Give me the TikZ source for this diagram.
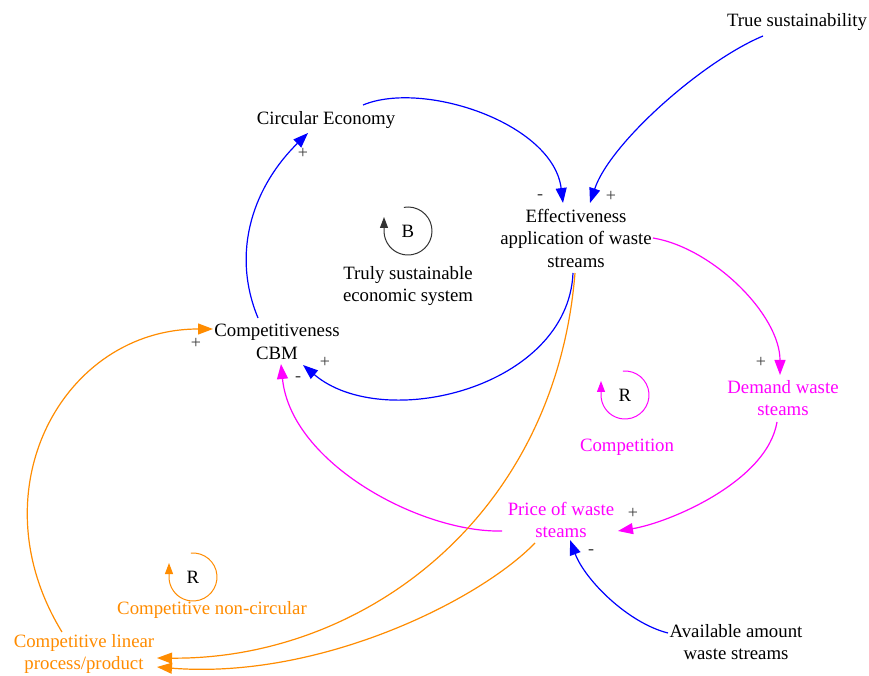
\documentclass[tikz,border=0pt]{standalone}
\usepackage{fontspec}
\setmainfont{LiberationSerif}[Extension=.ttf, UprightFont=*-Regular, BoldFont=*-Bold]
\usetikzlibrary{arrows.meta,calc}
\definecolor{cldblue}{RGB}{0,0,255}
\definecolor{cldmag}{RGB}{255,0,255}
\definecolor{cldorange}{RGB}{255,140,0}
\definecolor{signgray}{RGB}{60,60,60}
\tikzset{
  var/.style={align=center, inner sep=0pt, font=\fontsize{18.8}{22.5}\selectfont},
  sgn/.style={inner sep=0pt, text=signgray, font=\fontsize{18}{20}\selectfont},
  lnk/.style={line width=1.2pt, -{Triangle[length=15pt,width=11pt]}},
  loopsym/.style={line width=1pt, -{Triangle[length=11pt,width=8pt]}},
}

\begin{document}
\begin{tikzpicture}[x=1pt,y=1pt]
	\path[use as bounding box, fill=white] (0,0) rectangle (869,675);
	
	% variables
	\node[var] (ts) at (797,653) {True sustainability};
	\node[var] (ce) at (326,555) {Circular Economy};
	\node[var] (eff) at (576,437) {Effectiveness\\application of waste\\streams};
	\node[var] (cbm) at (277,333) {Competitiveness\\CBM};
	\node[var, text=cldmag] (dem) at (783,277) {Demand waste\\steams};
	\node[var, text=cldmag] (price) at (561,155) {Price of waste\\steams};
	\node[var] (avail) at (736,33) {Available amount\\waste streams};
	\node[var, text=cldorange] (lin) at (84,21) {Competitive linear\\process/product};
	
	% loop symbols
	\node[var] (bl) at (408,444) {B};
	\node[var] (blname) at (408,389) {Truly sustainable\\economic system};
	\draw[loopsym, black!80] ($(bl)+(100:24)$) arc (100:-180:24) -- ++(0,14);
	\node[var] (rc) at (625,280) {R};
	\node[var, text=cldmag] (rcname) at (627,228) {Competition};
	\draw[loopsym, cldmag] ($(rc)+(95:24)$) arc (95:-180:24) -- ++(0,14);
	\node[var] (rn) at (193,98) {R};
	\node[var, text=cldorange] (rnname) at (212,65) {Competitive non-circular};
	\draw[loopsym, cldorange] ($(rn)+(95:24)$) arc (95:-180:24) -- ++(0,14);
	
	% blue links
	\draw[lnk, cldblue] ($(ce)+(37,15)$) .. controls +(60,25) and +(-10,80) .. ($(eff)+(-13,35)$);
	\draw[lnk, cldblue] ($(ts)+(-34,-14)$) .. controls +(-60,-25) and +(20,60) .. ($(eff)+(14,35)$);
	\draw[lnk, cldblue] ($(eff)+(-3,-35)$) .. controls +(-5,-115) and +(80,-68) .. ($(cbm)+(26,-23)$);
	\draw[lnk, cldblue] ($(cbm)+(-19,24)$) .. controls +(-28,68) and +(-53,-52) .. ($(ce)+(-18,-13)$);
	\draw[lnk, cldblue] ($(avail)+(-68,9)$) .. controls +(-40,10) and +(15,-40) .. ($(price)+(9,-20)$);
	
	% magenta links
	\draw[lnk, cldmag] ($(eff)+(77,0)$) .. controls +(60,-10) and +(0,60) .. ($(dem)+(-3,23)$);
	\draw[lnk, cldmag] ($(dem)+(-6,-24)$) .. controls +(-10,-60) and +(50,8) .. ($(price)+(57,-11)$);
	\draw[lnk, cldmag] ($(price)+(-59,-11)$) .. controls +(-80,-2) and +(10,-100) .. ($(cbm)+(4,-22)$);
	
	% orange links
	\draw[lnk, cldorange] ($(eff)+(-1,-35)$) .. controls +(-20,-247) and +(203,-2) .. ($(lin)+(73,-4)$);
	\draw[lnk, cldorange] ($(price)+(-26,-23)$) .. controls +(-55,-57) and +(163,-13) .. ($(lin)+(73,-13)$);
	\draw[lnk, cldorange] ($(lin)+(-22,22)$) .. controls +(-87,142) and +(-150,0) .. ($(cbm)+(-64,13)$);
	
	% polarities
	\node[sgn] (p1) at (303,522) {+};
	\node[sgn] (p2) at (540,478) {-};
	\node[sgn] (p3) at (611,479) {+};
	\node[sgn] (p4) at (325,313) {+};
	\node[sgn] (p5) at (298,296) {-};
	\node[sgn] (p6) at (196,332) {+};
	\node[sgn] (p7) at (761,313) {+};
	\node[sgn] (p8) at (633,162) {+};
	\node[sgn] (p9) at (591,123) {-};
\end{tikzpicture}
\end{document}
